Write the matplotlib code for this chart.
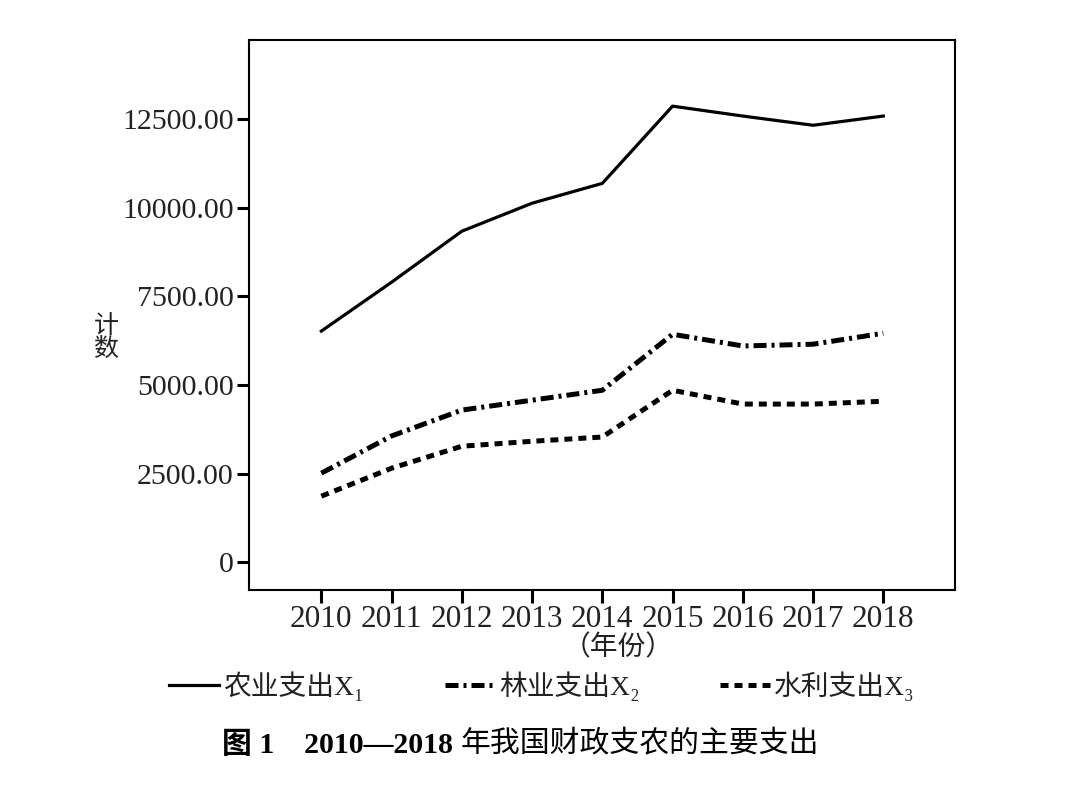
import matplotlib
matplotlib.use("Agg")
import matplotlib.pyplot as plt
from matplotlib.ticker import FuncFormatter

plt.rcParams['font.family'] = ['Liberation Serif', 'Noto Sans CJK SC']

# data
years = [2010, 2011, 2012, 2013, 2014, 2015, 2016, 2017, 2018]
agri = [6520, 7900, 9340, 10130, 10690, 12870, 12590, 12330, 12590]
forest = [2510, 3560, 4290, 4570, 4850, 6430, 6100, 6150, 6460]
water = [1860, 2650, 3270, 3410, 3530, 4850, 4460, 4460, 4540]
labels = ['农业支出X₁', '林业支出X₂', '水利支出X₃']
yticks = [0, 2500, 5000, 7500, 10000, 12500]

fig = plt.figure(figsize=(10.92, 8.05), dpi=100)
ax = fig.add_axes([0.228, 0.267, 0.6465, 0.683])

l1, = ax.plot(years, agri, color='black', lw=2.3, label=labels[0])
l2, = ax.plot(years, forest, color='black', lw=3.6, label=labels[1],
              dashes=(2.6, 1.0, 0.6, 1.0))
l3, = ax.plot(years, water, color='black', lw=3.6, label=labels[2],
              dashes=(1.6, 1.2))

ax.set_xlim(2008.97, 2019.02)
ax.set_ylim(-790, 14730)
ax.set_xticks(years)
ax.set_yticks(yticks)
ax.yaxis.set_major_formatter(FuncFormatter(lambda v, p: '0' if v == 0 else f'{v:.2f}'))

for s in ax.spines.values():
    s.set_linewidth(1.5)
ax.tick_params(axis='both', direction='out', length=9, width=2.2, colors='black',
               labelcolor='#222222')
ax.tick_params(axis='y', labelsize=21.5, pad=2)
ax.tick_params(axis='x', labelsize=22.5, pad=2)

fig.text(106 / 1092, 1 - 338 / 805, '计\n数', fontsize=18, ha='center', va='center',
         linespacing=1.0, color='#222222')
fig.text(618 / 1092, 1 - 648 / 805, '（年份）', fontsize=20, ha='center', va='center',
         color='#222222')

fig.legend(handles=[l1, l2, l3], loc='center', bbox_to_anchor=(542 / 1092, 1 - 686 / 805),
           ncol=3, frameon=False, fontsize=20, handlelength=1.8, handletextpad=0.15,
           columnspacing=2.9, labelcolor='#222222')

t1 = fig.text(222 / 1092, 1 - 745 / 805, '图 1　2010—2018 ', fontsize=21.5, weight='bold',
              ha='left', va='center')
ax.annotate('年我国财政支农的主要支出', xy=(1, 0), xycoords=t1, fontsize=21.5,
            ha='left', va='bottom', annotation_clip=False)

fig.savefig('out.png', dpi=100)
